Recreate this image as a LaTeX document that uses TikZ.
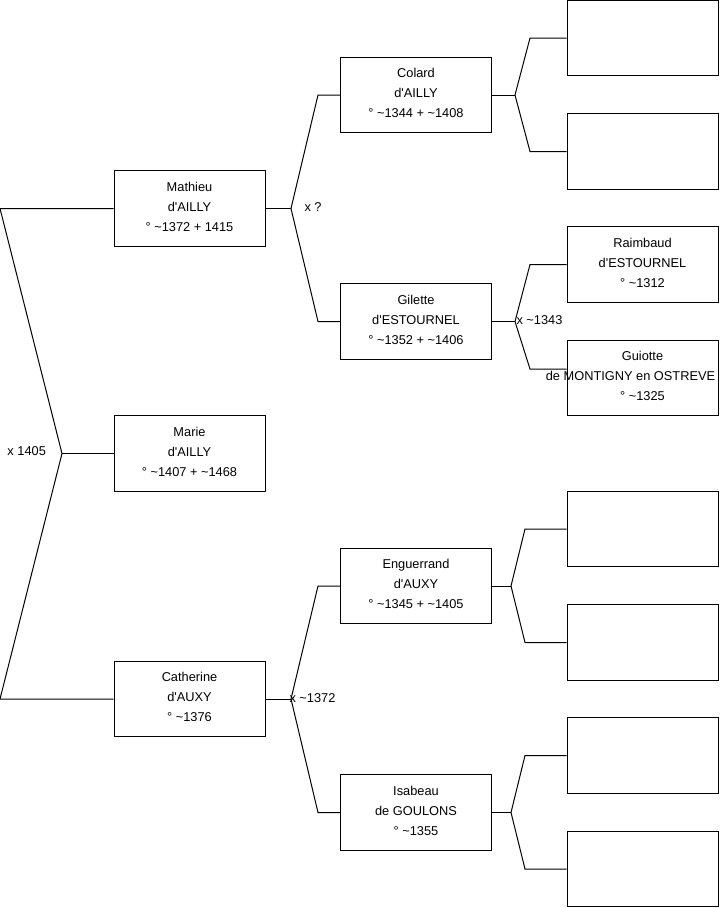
\documentclass[tikz,border=0pt]{standalone}
\usepackage{fontspec}
\setmainfont{Liberation Sans}
\newcommand{\abt}{\textasciitilde}
\newcommand{\apo}{\textquotesingle}

\begin{document}
\begin{tikzpicture}[x=0.75pt, y=-0.75pt, line width=0.75pt,
  person/.style={draw, rectangle, minimum width=113.25pt, minimum height=56.5pt, inner sep=0pt, align=center, font=\fontsize{9.6}{15}\selectfont},
  wed/.style={anchor=west, inner sep=0pt, font=\fontsize{9.6}{12}\selectfont}]
\useasboundingbox (0,0) rectangle (719,908);

% generation 1
\node[person] (mathieu) at (189.5,208.5) {Mathieu\\d\apo AILLY\\° \abt1372 + 1415\\[-12pt]};
\node[person] (marie) at (189.5,453.5) {Marie\\d\apo AILLY\\° \abt1407 + \abt1468\\[-12pt]};
\node[person] (catherine) at (189.5,699) {Catherine\\d\apo AUXY\\° \abt1376\\[-12pt]};

% generation 2
\node[person] (colard) at (416,95) {Colard\\d\apo AILLY\\° \abt1344 + \abt1408\\[-12pt]};
\node[person] (gilette) at (416,321.5) {Gilette\\d\apo ESTOURNEL\\° \abt1352 + \abt1406\\[-12pt]};
\node[person] (enguerrand) at (416,586) {Enguerrand\\d\apo AUXY\\° \abt1345 + \abt1405\\[-12pt]};
\node[person] (isabeau) at (416,812.5) {Isabeau\\de GOULONS\\° \abt1355\\[-12pt]};

% generation 3
\node[person] (colardf) at (642.5,38) {};
\node[person] (colardm) at (642.5,151.5) {};
\node[person] (raimbaud) at (642.5,264.5) {Raimbaud\\d\apo ESTOURNEL\\° \abt1312\\[-12pt]};
\node[person] (guiotte) at (642.5,378) {Guiotte\\\makebox[0pt]{de MONTIGNY en OSTREVE\hspace{18pt}}\\° \abt1325\\[-12pt]};
\node[person] (enguerrandf) at (642.5,529) {};
\node[person] (enguerrandm) at (642.5,642.5) {};
\node[person] (isabeauf) at (642.5,755.5) {};
\node[person] (isabeaum) at (642.5,869) {};

% marriages
\coordinate (mar0) at (62,453.5);
\coordinate (mar0t) at (0,208.5);
\coordinate (mar0b) at (0,699);
\coordinate (mar1) at (291,208.5);
\coordinate (mar2) at (291,699);
\coordinate (mar3) at (515,95);
\coordinate (mar4) at (515,321.5);
\coordinate (mar5) at (511,586);
\coordinate (mar6) at (511,812.5);
\coordinate (kink2) at (318,0);
\coordinate (kink3) at (530,0);
\coordinate (kink3b) at (525,0);
\coordinate (guiottein) at (530,369);

\draw (mathieu.west) -- (mar0t) -- (mar0) -- (mar0b) -- (catherine.west);
\draw (mar0) -- (marie.west);

\draw (mathieu.east) -- (mar1);
\draw (colard.west) -- (colard.west -| kink2) -- (mar1) -- (gilette.west -| kink2) -- (gilette.west);
\draw (catherine.east) -- (mar2);
\draw (enguerrand.west) -- (enguerrand.west -| kink2) -- (mar2) -- (isabeau.west -| kink2) -- (isabeau.west);

\draw (colard.east) -- (mar3);
\draw (colardf.west) -- (colardf.west -| kink3) -- (mar3) -- (colardm.west -| kink3) -- (colardm.west);
\draw (gilette.east) -- (mar4);
\draw (raimbaud.west) -- (raimbaud.west -| kink3) -- (mar4) -- (guiottein) -- (guiottein -| guiotte.west);
\draw (enguerrand.east) -- (mar5);
\draw (enguerrandf.west) -- (enguerrandf.west -| kink3b) -- (mar5) -- (enguerrandm.west -| kink3b) -- (enguerrandm.west);
\draw (isabeau.east) -- (mar6);
\draw (isabeauf.west) -- (isabeauf.west -| kink3b) -- (mar6) -- (isabeaum.west -| kink3b) -- (isabeaum.west);

\node[wed] (wed0) at (7,451) {x 1405};
\node[wed] (wed1) at (304,207) {x ?};
\node[wed] (wed2) at (289,698) {x \abt1372};
\node[wed] (wed4) at (516,320) {x \abt1343};
\end{tikzpicture}
\end{document}
